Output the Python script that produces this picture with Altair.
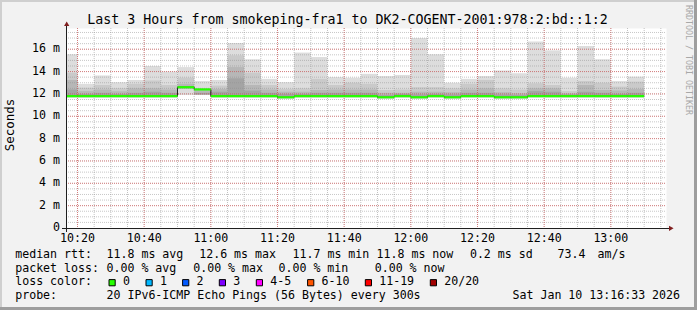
import altair as alt
import pandas as pd

FONT = "DejaVu Sans Mono"

# ---------------- data ----------------
title_text = "Last 3 Hours from smokeping-fra1 to DK2-COGENT-2001:978:2:bd::1:2"
window_start = "10:16:33"
window_end = "13:16:33"
bar_end = ["10:20", "10:25", "10:30", "10:35", "10:40", "10:45", "10:50", "10:55",
           "11:00", "11:05", "11:10", "11:15", "11:20", "11:25", "11:30", "11:35",
           "11:40", "11:45", "11:50", "11:55", "12:00", "12:05", "12:10", "12:15",
           "12:20", "12:25", "12:30", "12:35", "12:40", "12:45", "12:50", "12:55",
           "13:00", "13:05", "13:10"]
median_ms = [11.8, 11.8, 11.8, 11.8, 11.8, 11.8, 11.8, 12.6, 12.4, 11.8, 11.8, 11.8,
             11.8, 11.7, 11.8, 11.8, 11.8, 11.8, 11.8, 11.7, 11.8, 11.7, 11.8, 11.7,
             11.8, 11.8, 11.7, 11.7, 11.8, 11.8, 11.8, 11.8, 11.8, 11.8, 11.8]
max_ms = [15.55, 12.9, 13.65, 13.05, 13.25, 14.5, 14.0, 14.4, 13.15, 13.25, 16.55, 15.1,
          13.35, 13.05, 15.7, 15.3, 13.5, 13.45, 13.8, 13.6, 13.7, 17.0, 15.55, 13.0,
          13.35, 13.6, 14.1, 13.85, 16.7, 15.9, 13.45, 16.3, 15.1, 13.15, 13.55]
p19_ms = [13.9, 12.55, 12.8, 12.5, 12.9, 13.2, 12.8, 13.45, 12.5, 12.75, 15.45, 13.9,
          12.8, 12.45, 12.5, 13.35, 12.8, 13.0, 12.9, 12.35, 12.4, 12.6, 12.6, 12.5,
          12.9, 13.25, 12.5, 12.4, 12.95, 12.8, 12.25, 13.15, 13.0, 12.65, 13.1]
p17_ms = [13.25, 12.25, 12.4, 12.25, 12.5, 12.5, 12.4, 12.9, 12.3, 12.45, 14.4, 12.8,
          12.4, 12.2, 12.2, 12.35, 12.4, 12.4, 12.4, 12.1, 12.1, 12.2, 12.2, 12.15,
          12.4, 12.5, 12.15, 12.05, 12.5, 12.5, 12.05, 12.8, 12.35, 12.3, 12.45]
p15_ms = [12.4, 12.0, 12.1, 12.0, 12.1, 12.2, 12.1, 12.7, 12.1, 12.2, 13.4, 12.3,
          12.1, 12.0, 12.0, 12.1, 12.1, 12.1, 12.1, 11.9, 12.0, 11.95, 12.0, 11.95,
          12.1, 12.1, 11.95, 11.9, 12.25, 12.2, 11.95, 12.2, 12.1, 12.0, 12.1]
low_ms = [11.65, 11.65, 11.65, 11.65, 11.65, 11.65, 11.65, 11.9, 11.9, 11.65, 11.65, 11.65,
          11.65, 11.55, 11.65, 11.65, 11.65, 11.65, 11.65, 11.55, 11.65, 11.55, 11.65, 11.55,
          11.65, 11.65, 11.55, 11.55, 11.65, 11.65, 11.65, 11.65, 11.65, 11.65, 11.65]
low_inner_ms = [11.75, 11.75, 11.75, 11.75, 11.75, 11.75, 11.75, 12.5, 11.95, 11.75, 11.75, 11.75,
                11.75, 11.65, 11.75, 11.75, 11.75, 11.75, 11.75, 11.65, 11.75, 11.65, 11.75, 11.65,
                11.75, 11.75, 11.65, 11.65, 11.75, 11.75, 11.75, 11.75, 11.75, 11.75, 11.75]

x_tick_labels = ["10:20", "10:40", "11:00", "11:20", "11:40", "12:00", "12:20", "12:40", "13:00"]
y_ticks = [0, 2, 4, 6, 8, 10, 12, 14, 16]
y_tick_labels = ["0\u00a0\u00a0", "2 m", "4 m", "6 m", "8 m", "10 m", "12 m", "14 m", "16 m"]

stats_rows = [
    ["median rtt:", "11.8 ms avg", "12.6 ms max", "11.7 ms min", "11.8 ms now", "0.2 ms sd", "73.4", "am/s"],
    ["packet loss:", "0.00 % avg", "0.00 % max", "0.00 % min", "0.00 % now"],
    ["loss color:"],
    ["probe:", "20 IPv6-ICMP Echo Pings (56 Bytes) every 300s", "Sat Jan 10 13:16:33 2026"],
]
loss_labels = ["0", "1", "2", "3", "4-5", "6-10", "11-19", "20/20"]
loss_colors = ["#26ff00", "#00b8ff", "#0059ff", "#7e00ff", "#ff00ff", "#ff5500", "#ff0000", "#a10000"]
y_title = "Seconds"
watermark = "RRDTOOL / TOBI OETIKER"

# ---------------- layout (pixels) ----------------
L, T = 66, 28
PW, PH = 600, 200
stats_x = [
    [16, 107.3, 200, 293.3, 377.3, 470.7, 558.3, 598.3],
    [16, 107.3, 194, 279.3, 375.5],
    [16],
    [16, 107.3, 513.3],
]
stats_baseline = [258.3, 271.8, 285.2, 298.7]
square_x = [108.7, 145.7, 182.3, 219, 256, 307.3, 365, 430]


def to_min(s):
    p = [int(v) for v in s.split(":")]
    return p[0] * 60 + p[1] + (p[2] / 60 if len(p) > 2 else 0)


bar_start = [window_start] + bar_end[:-1]
bars = pd.DataFrame({
    "t0": [to_min(s) for s in bar_start],
    "t1": [to_min(s) for s in bar_end],
    "median": median_ms, "max": max_ms, "p19": p19_ms, "p17": p17_ms, "p15": p15_ms,
    "low": low_ms, "low_in": low_inner_ms,
})
bars["g_lo"] = bars["median"] - 0.1
bars["g_hi"] = bars["median"] + 0.1

step = pd.DataFrame({
    "t": list(bars["t0"]) + [bars["t1"].iloc[-1]],
    "m": median_ms + [median_ms[-1]],
})

xticks = pd.DataFrame({"t": [to_min(s) for s in x_tick_labels], "lab": x_tick_labels})
yticks = pd.DataFrame({"v": y_ticks, "lab": y_tick_labels})

xs = alt.Scale(domain=[to_min(window_start), to_min(window_end)], nice=False, zero=False)
ys = alt.Scale(domain=[0, 17.9], nice=False, zero=False)


def X(f):
    return alt.X(f, scale=xs, axis=None)


def Y(f):
    return alt.Y(f, scale=ys, axis=None)


layers = []

# smoke
smoke = [("max", "low", "#dddddd"), ("p19", "low_in", "#cacaca"),
         ("p17", "low_in", "#b7b7b7"), ("p15", "low_in", "#a4a4a4")]
for top, bot, col in smoke:
    layers.append(
        alt.Chart(bars).mark_rect(color=col, strokeWidth=0).encode(
            x=X("t0:Q"), x2="t1:Q", y=Y(f"{bot}:Q"), y2=f"{top}:Q")
    )

# grid
minor_x = pd.DataFrame({"t": [to_min("10:20") + 5 * i for i in range(36)]})
minor_y = pd.DataFrame({"v": [0.5 * i for i in range(1, 36)]})
major_y = pd.DataFrame({"v": y_ticks[1:]})

layers.append(alt.Chart(minor_x).mark_rule(stroke="#8f8f8f", strokeOpacity=0.55, strokeDash=[1, 1]).encode(
    x=X("t:Q"), y=alt.value(0), y2=alt.value(PH)))
layers.append(alt.Chart(minor_y).mark_rule(stroke="#8f8f8f", strokeOpacity=0.5, strokeDash=[1, 1]).encode(
    y=Y("v:Q"), x=alt.value(0), x2=alt.value(PW)))
layers.append(alt.Chart(xticks).mark_rule(stroke="#de4f4f", strokeOpacity=0.6, strokeDash=[1, 1]).encode(
    x=X("t:Q"), y=alt.value(0), y2=alt.value(PH)))
layers.append(alt.Chart(major_y).mark_rule(stroke="#de4f4f", strokeOpacity=0.6, strokeDash=[1, 1]).encode(
    y=Y("v:Q"), x=alt.value(0), x2=alt.value(PW)))

# median line and loss-coloured band
layers.append(alt.Chart(step).mark_line(interpolate="step-after", color="#202020", strokeWidth=1).encode(
    x=X("t:Q"), y=Y("m:Q")))
layers.append(alt.Chart(bars).mark_rect(color=loss_colors[0], strokeWidth=0).encode(
    x=X("t0:Q"), x2="t1:Q", y=Y("g_lo:Q"), y2="g_hi:Q"))

# tick labels, placed through the scales
layers.append(alt.Chart(xticks).mark_text(font=FONT, fontSize=11.6, align="center",
                                          baseline="alphabetic", color="#000000").encode(
    x=X("t:Q"), y=alt.value(241.7 - T), text="lab:N"))
layers.append(alt.Chart(yticks).mark_text(font=FONT, fontSize=11.6, align="right",
                                          baseline="middle", color="#000000").encode(
    y=Y("v:Q"), x=alt.value(-6), text="lab:N"))

one = pd.DataFrame({"k": [0]})

# axes lines and arrows
layers.append(alt.Chart(one).mark_rule(color="#1f1f1f", strokeWidth=1).encode(
    x=alt.value(-4), x2=alt.value(605), y=alt.value(200.5)))
layers.append(alt.Chart(one).mark_rule(color="#1f1f1f", strokeWidth=1).encode(
    x=alt.value(0.5), y=alt.value(-4), y2=alt.value(204)))
layers.append(alt.Chart(one).mark_point(shape="triangle-up", filled=True, size=28, color="#801f1f", opacity=1).encode(
    x=alt.value(0.7), y=alt.value(-4.3)))
layers.append(alt.Chart(one).mark_point(shape="triangle-right", filled=True, size=28, color="#801f1f", opacity=1).encode(
    x=alt.value(605.3), y=alt.value(200.3)))

# title, axis title, watermark
layers.append(alt.Chart(one).mark_text(text=title_text, font=FONT, fontSize=13.3, align="center",
                                       baseline="alphabetic", color="#000000").encode(
    x=alt.value(347.5 - L), y=alt.value(24 - T)))
layers.append(alt.Chart(one).mark_text(text=y_title, font=FONT, fontSize=12.5, align="center",
                                       baseline="middle", angle=270, color="#000000").encode(
    x=alt.value(10.3 - L), y=alt.value(125 - T)))
layers.append(alt.Chart(one).mark_text(text=watermark, font=FONT, fontSize=8.3, align="center",
                                       baseline="middle", angle=90, color="#a8a8a8").encode(
    x=alt.value(687.5 - L), y=alt.value(60 - T)))

# statistics rows
for row, xs_row, by in zip(stats_rows, stats_x, stats_baseline):
    for txt, px in zip(row, xs_row):
        layers.append(alt.Chart(one).mark_text(text=txt, font=FONT, fontSize=11.6, align="left",
                                               baseline="alphabetic", color="#000000").encode(
            x=alt.value(px - 0.8 - L), y=alt.value(by - T)))

# loss colour legend
for lab, col, sx in zip(loss_labels, loss_colors, square_x):
    layers.append(alt.Chart(one).mark_rect(fill=col, stroke="#000000", strokeWidth=1).encode(
        x=alt.value(sx + 0.3 - L), x2=alt.value(sx + 6.5 - L),
        y=alt.value(279.6 - T), y2=alt.value(285.8 - T)))
    layers.append(alt.Chart(one).mark_text(text=lab, font=FONT, fontSize=11.6, align="left",
                                           baseline="alphabetic", color="#000000").encode(
        x=alt.value(sx + 15 - 0.8 - L), y=alt.value(stats_baseline[2] - T)))

# 3D frame
W, H = 697, 310
frame = [(0, W, 0, 2, "#cfcfcf"), (0, 2, 0, H, "#cfcfcf"),
         (0, W, H - 3, H, "#9e9e9e"), (W - 3, W, 0, H, "#9e9e9e")]
for x0, x1, y0, y1, col in frame:
    layers.append(alt.Chart(one).mark_rect(color=col, strokeWidth=0).encode(
        x=alt.value(x0 - L), x2=alt.value(x1 - L), y=alt.value(y0 - T), y2=alt.value(y1 - T)))

chart = alt.layer(*layers).properties(
    width=PW, height=PH,
    background="#f2f2f2",
    padding={"left": L, "top": T, "right": W - L - PW, "bottom": H - T - PH},
    autosize=alt.AutoSizeParams(type="none"),
).configure_view(fill="#ffffff", stroke="transparent")

chart.save("out.html", embed_options={"renderer": "svg", "actions": False})
